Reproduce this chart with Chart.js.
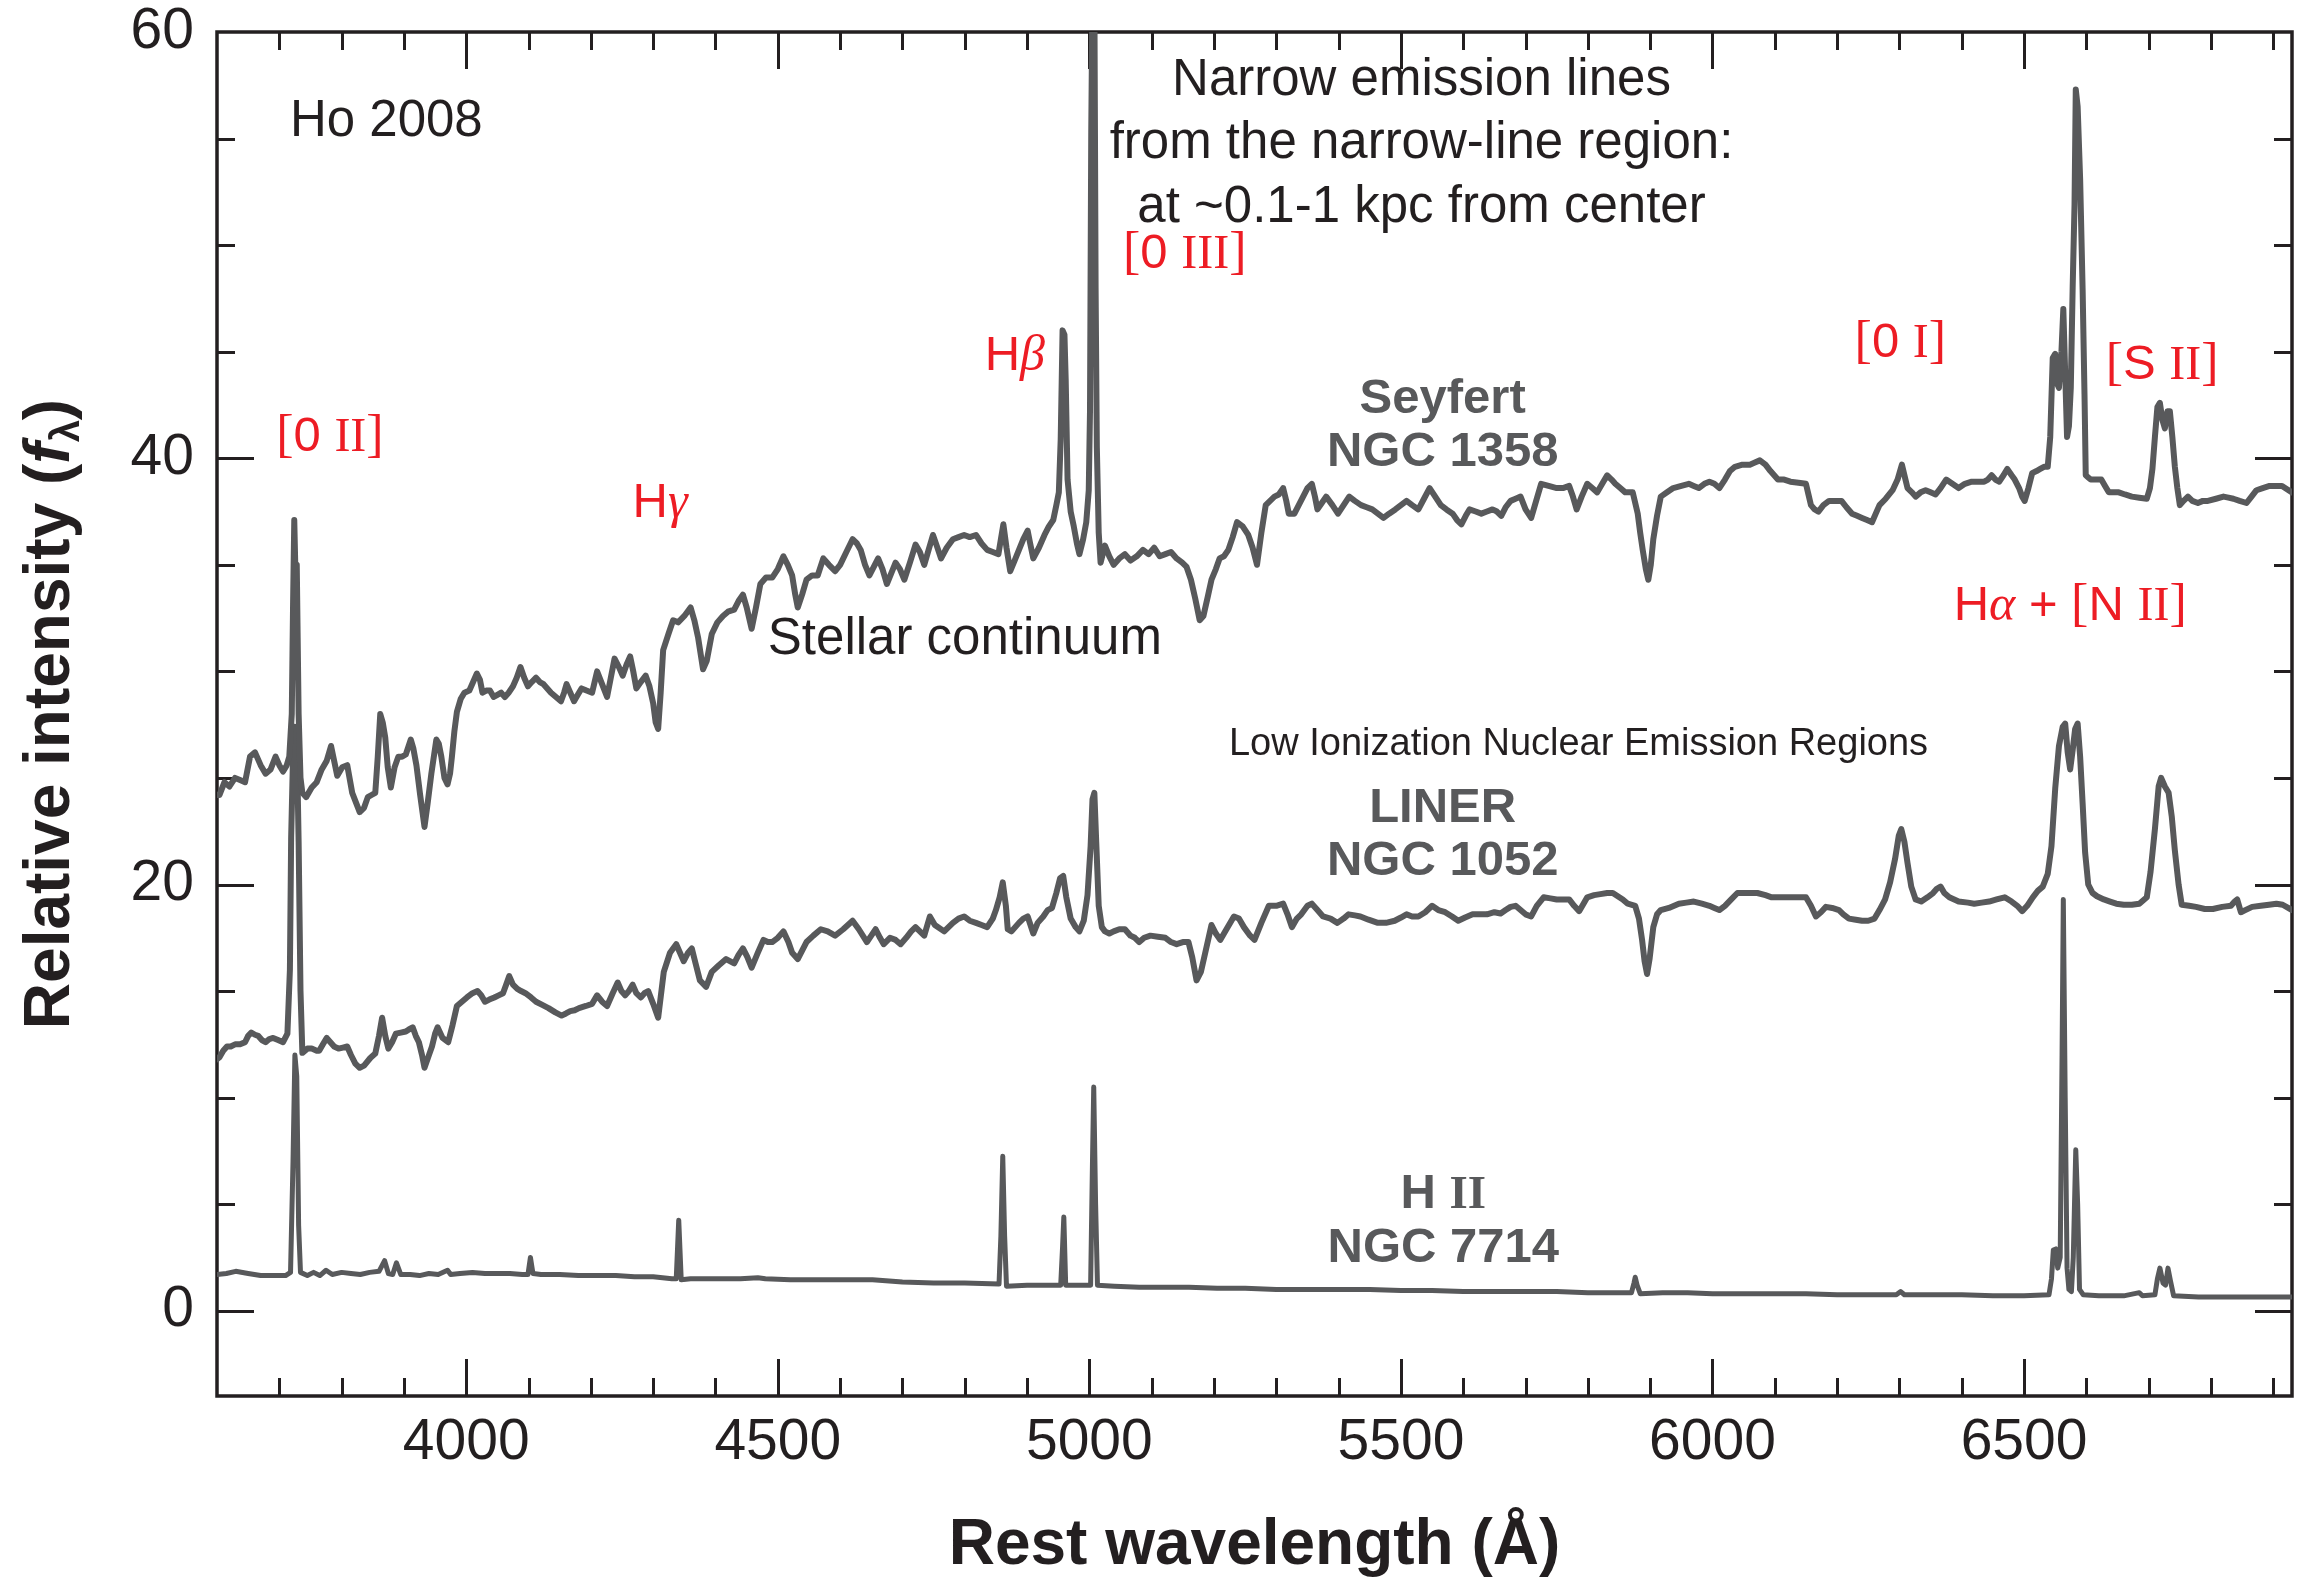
<!DOCTYPE html>
<html>
<head>
<meta charset="utf-8">
<title>Optical spectra of galactic nuclei</title>
<script src="https://cdn.jsdelivr.net/npm/chart.js@4.4.1/dist/chart.umd.min.js"></script>
<style>
  html, body { margin: 0; padding: 0; background: #ffffff; }
  canvas { display: block; }
</style>
</head>
<body>
<canvas id="spectra" width="2298" height="1580"></canvas>
<script>
// ---- Spectra: rest wavelength (Angstrom) and relative intensity f_lambda ----

// Seyfert nucleus, NGC 1358
const seyfertWave = [
  3600,3604,3612,3620,3629,3637,3645,3653,3661,3670,
  3678,3686,3694,3700,3706,3712,3716,3720,3722,3724,
  3726,3728,3731,3734,3737,3743,3752,3760,3768,3776,
  3783,3788,3793,3801,3809,3817,3829,3836,3842,3848,
  3854,3858,3862,3866,3870,3874,3879,3885,3891,3897,
  3903,3911,3915,3920,3926,3933,3938,3944,3952,3956,
  3960,3965,3970,3974,3977,3981,3985,3991,3997,4005,
  4011,4017,4022,4026,4032,4038,4044,4050,4056,4062,
  4068,4075,4081,4087,4093,4099,4105,4112,4118,4124,
  4130,4136,4144,4152,4157,4161,4167,4173,4179,4185,
  4193,4202,4206,4210,4218,4226,4232,4238,4245,4251,
  4257,4263,4268,4273,4280,4288,4294,4300,4304,4308,
  4312,4316,4325,4332,4340,4350,4360,4366,4372,4380,
  4386,4394,4403,4412,4420,4430,4437,4444,4450,4458,
  4465,4472,4481,4491,4500,4509,4516,4523,4528,4532,
  4539,4546,4555,4564,4573,4582,4592,4600,4610,4620,
  4627,4633,4640,4647,4654,4661,4668,4675,4682,4689,
  4696,4703,4712,4721,4728,4735,4742,4749,4755,4762,
  4771,4781,4790,4799,4808,4818,4827,4836,4845,4854,
  4858,4862,4867,4873,4880,4887,4894,4901,4905,4910,
  4919,4928,4935,4942,4947,4951,4954,4957,4960,4962,
  4965,4970,4975,4980,4984,4990,4995,4999,5001,5003,
  5005,5008,5010,5012,5015,5018,5025,5032,5039,5048,
  5057,5066,5076,5086,5095,5104,5113,5122,5131,5140,
  5149,5156,5163,5170,5177,5183,5190,5196,5203,5209,
  5216,5223,5230,5237,5246,5255,5262,5269,5276,5283,
  5290,5297,5304,5311,5316,5320,5329,5336,5343,5350,
  5357,5362,5366,5373,5380,5390,5399,5408,5417,5426,
  5436,5445,5454,5463,5472,5481,5491,5500,5509,5518,
  5528,5537,5546,5555,5564,5573,5583,5590,5597,5604,
  5610,5620,5629,5638,5647,5654,5661,5668,5676,5684,
  5692,5700,5709,5717,5725,5737,5750,5760,5770,5776,
  5782,5790,5799,5807,5815,5823,5831,5838,5844,5852,
  5860,5872,5880,5884,5888,5893,5897,5901,5905,5911,
  5917,5927,5937,5950,5962,5970,5978,5987,5995,6003,
  6011,6020,6028,6036,6048,6060,6068,6076,6085,6093,
  6099,6105,6115,6125,6138,6150,6154,6158,6164,6170,
  6178,6187,6197,6207,6215,6224,6232,6240,6248,6256,
  6262,6268,6278,6289,6297,6304,6308,6313,6320,6326,
  6334,6342,6350,6358,6366,6375,6385,6395,6405,6416,
  6426,6436,6442,6448,6454,6460,6467,6473,6480,6485,
  6492,6497,6501,6507,6513,6520,6526,6532,6538,6542,
  6546,6550,6553,6556,6560,6563,6566,6569,6572,6575,
  6578,6581,6583,6586,6590,6594,6597,6599,6603,6607,
  6615,6624,6630,6636,6644,6652,6662,6673,6685,6697,
  6702,6706,6710,6714,6718,6722,6726,6730,6734,6738,
  6742,6746,6750,6756,6763,6770,6779,6787,6795,6808,
  6820,6828,6836,6846,6857,6865,6873,6883,6894,6904,
  6914,6922,6930
];
const seyfertFlux = [
  24.2,24.2,24.8,24.6,25.0,24.9,24.8,26.0,26.2,25.6,
  25.2,25.4,26.0,25.6,25.3,25.6,26.0,28.0,33.0,37.1,
  34.5,35.0,28.0,25.0,24.3,24.1,24.55,24.8,25.4,25.8,
  26.5,25.8,25.1,25.5,25.6,24.3,23.4,23.6,24.1,24.2,
  24.3,26.0,28.0,27.6,26.9,25.5,24.55,25.5,26.0,26.0,
  26.1,26.8,26.4,25.6,24.2,22.7,23.8,25.2,26.8,26.6,
  26.0,25.0,24.7,25.2,26.0,27.2,28.1,28.7,29.0,29.1,
  29.5,29.9,29.6,29.0,29.1,29.1,28.8,28.9,29.0,28.8,
  29.0,29.3,29.7,30.2,29.7,29.3,29.5,29.7,29.5,29.4,
  29.2,29.0,28.8,28.6,29.0,29.4,29.0,28.6,28.9,29.2,
  29.1,29.0,29.5,30.0,29.4,28.8,29.7,30.6,30.2,29.8,
  30.3,30.7,30.0,29.2,29.5,29.8,29.3,28.5,27.6,27.3,
  29.0,31.0,31.8,32.4,32.3,32.6,33.0,32.4,31.6,30.1,
  30.5,31.75,32.3,32.6,32.8,32.9,33.3,33.6,33.0,32.0,
  33.0,34.1,34.4,34.4,34.8,35.4,35.0,34.5,33.6,33.0,
  33.6,34.3,34.5,34.5,35.3,35.0,34.7,35.0,35.6,36.2,
  36.0,35.7,35.0,34.5,34.9,35.3,34.8,34.1,34.6,35.1,
  34.8,34.3,35.1,35.95,35.6,35.0,35.7,36.4,35.9,35.3,
  35.8,36.2,36.3,36.4,36.3,36.4,36.0,35.7,35.6,35.5,
  36.2,36.9,35.8,34.7,35.2,35.7,36.2,36.6,36.0,35.3,
  35.8,36.4,36.8,37.1,37.8,38.4,40.9,46.0,45.8,43.7,
  39.0,37.5,36.8,36.0,35.5,36.2,37.0,38.5,42.2,55.3,
  62.0,62.0,48.0,40.5,36.5,35.1,35.9,35.4,35.0,35.3,
  35.5,35.2,35.4,35.7,35.5,35.8,35.4,35.5,35.6,35.3,
  35.1,34.9,34.3,33.4,32.4,32.6,33.5,34.3,34.8,35.3,
  35.4,35.7,36.3,37.0,36.8,36.4,35.8,35.0,36.5,37.8,
  38.0,38.2,38.3,38.6,38.0,37.4,37.4,37.8,38.2,38.6,
  38.8,38.2,37.6,37.9,38.2,37.8,37.4,37.8,38.2,38.0,
  37.8,37.7,37.6,37.4,37.2,37.4,37.6,37.8,38.0,37.8,
  37.6,38.1,38.6,38.2,37.8,37.6,37.4,37.1,36.9,37.3,
  37.6,37.5,37.4,37.5,37.6,37.5,37.3,37.7,38.0,38.1,
  38.2,37.6,37.2,38.0,38.8,38.7,38.6,38.6,38.7,38.2,
  37.6,38.2,38.8,38.6,38.4,38.8,39.2,39.0,38.8,38.6,
  38.4,38.4,37.4,36.5,35.7,34.8,34.3,35.0,36.2,37.3,
  38.2,38.4,38.6,38.7,38.8,38.7,38.6,38.8,38.9,38.8,
  38.6,39.0,39.4,39.6,39.7,39.7,39.8,39.9,39.7,39.4,
  39.2,39.0,39.0,38.9,38.85,38.8,38.3,37.8,37.6,37.5,
  37.8,38.0,38.0,38.0,37.7,37.4,37.3,37.2,37.1,37.0,
  37.4,37.8,38.1,38.5,39.0,39.7,39.2,38.6,38.4,38.2,
  38.4,38.5,38.4,38.3,38.6,39.0,38.8,38.6,38.8,38.9,
  38.9,38.9,39.0,39.2,39.0,38.9,39.2,39.5,39.2,39.0,
  38.6,38.2,38.0,38.6,39.3,39.4,39.5,39.6,39.6,41.0,
  44.7,44.9,43.5,43.3,45.0,47.0,44.0,41.0,41.5,43.3,
  48.0,51.9,57.3,56.5,53.1,47.9,43.0,39.2,39.1,39.0,
  39.0,39.0,38.7,38.4,38.4,38.4,38.3,38.2,38.15,38.1,
  38.6,39.5,41.0,42.4,42.6,41.8,41.4,42.2,42.2,41.0,
  39.6,38.6,37.8,38.0,38.2,38.0,37.9,38.0,38.0,38.1,
  38.2,38.15,38.1,38.0,37.9,38.2,38.5,38.6,38.7,38.7,
  38.7,38.55,38.4
];

// LINER nucleus, NGC 1052
const linerWave = [
  3600,3604,3610,3616,3622,3629,3637,3645,3650,3655,
  3661,3666,3672,3678,3684,3690,3698,3706,3713,3717,
  3719,3722,3725,3728,3731,3734,3737,3745,3752,3760,
  3764,3770,3776,3782,3788,3795,3802,3809,3815,3822,
  3829,3836,3846,3854,3860,3865,3870,3875,3881,3887,
  3895,3903,3908,3914,3919,3924,3929,3933,3939,3945,
  3950,3954,3962,3971,3978,3985,3993,4001,4010,4018,
  4024,4030,4037,4045,4052,4059,4064,4069,4075,4082,
  4088,4095,4104,4112,4122,4132,4143,4153,4160,4167,
  4174,4181,4192,4202,4210,4218,4226,4235,4243,4249,
  4255,4261,4267,4273,4280,4286,4292,4300,4308,4317,
  4327,4337,4343,4349,4356,4362,4368,4375,4385,4394,
  4405,4417,4430,4437,4444,4451,4458,4468,4477,4484,
  4491,4500,4509,4517,4523,4532,4539,4546,4557,4569,
  4580,4592,4605,4620,4630,4643,4650,4657,4664,4670,
  4680,4689,4697,4706,4714,4721,4728,4735,4744,4752,
  4767,4781,4790,4799,4808,4818,4827,4836,4845,4850,
  4856,4861,4866,4869,4875,4887,4894,4901,4910,4917,
  4926,4933,4940,4947,4953,4958,4963,4970,4978,4984,
  4991,4997,5002,5005,5008,5011,5015,5020,5025,5032,
  5039,5048,5057,5066,5073,5080,5088,5098,5110,5122,
  5131,5140,5150,5159,5165,5172,5179,5186,5196,5203,
  5210,5220,5232,5240,5248,5258,5265,5276,5288,5300,
  5311,5318,5325,5333,5340,5350,5357,5366,5375,5387,
  5398,5408,5416,5426,5435,5448,5463,5476,5490,5500,
  5509,5518,5528,5539,5550,5560,5571,5582,5592,5603,
  5615,5627,5638,5650,5660,5668,5676,5684,5692,5700,
  5709,5718,5729,5740,5750,5760,5770,5778,5786,5793,
  5799,5810,5820,5831,5840,5848,5856,5864,5876,5882,
  5887,5891,5895,5899,5905,5911,5917,5930,5946,5958,
  5970,5983,5995,6003,6011,6020,6030,6040,6056,6072,
  6085,6095,6117,6135,6150,6158,6166,6174,6182,6192,
  6203,6210,6219,6230,6240,6250,6260,6268,6277,6285,
  6293,6299,6303,6308,6313,6319,6326,6335,6345,6354,
  6360,6366,6372,6380,6395,6410,6420,6432,6444,6456,
  6469,6480,6489,6497,6505,6514,6522,6530,6538,6544,
  6550,6556,6562,6566,6570,6574,6578,6582,6586,6590,
  6594,6598,6603,6610,6617,6628,6638,6648,6660,6673,
  6685,6697,6703,6710,6716,6720,6726,6732,6737,6742,
  6748,6753,6765,6776,6790,6803,6818,6832,6838,6842,
  6848,6855,6866,6880,6893,6905,6915,6930
];
const linerFlux = [
  11.8,11.9,12.2,12.4,12.4,12.5,12.5,12.6,12.9,13.05,
  12.95,12.9,12.7,12.6,12.75,12.8,12.7,12.6,13.0,16.0,
  22.2,26.0,27.4,27.0,22.0,15.0,12.1,12.3,12.3,12.2,
  12.2,12.5,12.8,12.6,12.4,12.3,12.35,12.4,12.0,11.6,
  11.4,11.5,11.86,12.07,12.9,13.75,12.9,12.3,12.6,13.0,
  13.05,13.1,13.2,13.3,12.9,12.6,12.0,11.4,11.9,12.4,
  13.0,13.3,12.8,12.6,13.4,14.3,14.5,14.7,14.9,15.0,
  14.8,14.5,14.6,14.7,14.8,14.9,15.3,15.7,15.3,15.1,
  15.0,14.9,14.7,14.5,14.35,14.2,14.0,13.85,13.95,14.06,
  14.1,14.2,14.3,14.4,14.8,14.5,14.3,14.9,15.4,15.0,
  14.8,15.0,15.3,14.9,14.7,14.9,15.0,14.4,13.75,15.9,
  16.8,17.2,16.8,16.4,16.8,17.0,16.3,15.5,15.2,15.9,
  16.2,16.5,16.3,16.7,17.0,16.6,16.1,16.8,17.4,17.3,
  17.3,17.5,17.8,17.3,16.8,16.5,16.9,17.3,17.6,17.9,
  17.8,17.6,17.9,18.3,17.9,17.3,17.6,17.9,17.5,17.2,
  17.5,17.4,17.2,17.5,17.8,18.0,17.8,17.6,18.5,18.1,
  17.8,18.2,18.4,18.5,18.3,18.2,18.1,18.0,18.4,18.8,
  19.4,20.1,19.0,17.9,17.8,18.2,18.4,18.5,17.7,18.2,
  18.5,18.8,18.9,19.6,20.3,20.4,19.4,18.4,18.0,17.8,
  18.3,19.5,21.8,24.0,24.3,22.0,19.0,18.0,17.8,17.7,
  17.8,17.9,17.9,17.6,17.5,17.3,17.5,17.6,17.55,17.5,
  17.3,17.2,17.3,17.3,16.6,15.5,15.9,16.8,18.1,17.7,
  17.4,17.9,18.5,18.4,18.0,17.6,17.4,18.2,19.0,19.0,
  19.1,18.6,18.0,18.4,18.6,19.0,19.1,18.8,18.5,18.4,
  18.2,18.4,18.6,18.55,18.5,18.35,18.2,18.2,18.3,18.45,
  18.6,18.5,18.5,18.7,19.0,18.8,18.7,18.5,18.3,18.45,
  18.6,18.6,18.6,18.7,18.64,18.8,18.95,19.0,18.8,18.6,
  18.5,19.0,19.4,19.35,19.3,19.3,19.3,19.0,18.75,19.1,
  19.4,19.5,19.55,19.6,19.6,19.45,19.3,19.1,19.0,18.4,
  17.4,16.4,15.8,16.5,18.0,18.6,18.8,18.9,19.1,19.15,
  19.2,19.1,19.0,18.9,18.8,19.0,19.3,19.6,19.6,19.6,
  19.5,19.4,19.4,19.4,19.4,19.0,18.5,18.7,18.95,18.9,
  18.8,18.6,18.4,18.35,18.3,18.3,18.4,18.8,19.3,20.1,
  21.2,22.3,22.6,22.0,21.0,19.9,19.3,19.2,19.4,19.6,
  19.8,19.9,19.6,19.4,19.2,19.15,19.1,19.15,19.2,19.3,
  19.4,19.2,19.0,18.75,19.0,19.4,19.7,19.9,20.5,21.8,
  24.5,26.5,27.4,27.55,26.2,25.4,26.3,27.3,27.55,26.0,
  23.8,21.5,20.0,19.6,19.45,19.3,19.2,19.1,19.05,19.05,
  19.1,19.4,20.6,22.6,24.6,25.0,24.6,24.3,23.2,21.6,
  20.0,19.05,19.0,18.95,18.85,18.85,18.95,19.0,19.2,19.3,
  18.7,18.8,18.95,19.0,19.05,19.1,19.05,18.8
];

// H II nucleus, NGC 7714
const hiiWave = [
  3600,3615,3630,3650,3670,3690,3710,3718,3722,3725,
  3728,3731,3734,3745,3755,3765,3775,3785,3800,3815,
  3830,3845,3860,3869,3875,3882,3888,3895,3910,3925,
  3940,3955,3970,3975,3990,4010,4030,4050,4070,4090,
  4099,4103,4107,4120,4150,4180,4210,4240,4270,4300,
  4330,4337,4341,4345,4360,4400,4440,4468,4480,4520,
  4560,4600,4652,4700,4750,4800,4855,4858,4861,4864,
  4867,4900,4940,4954,4957,4959,4962,4990,5002,5005,
  5007,5010,5013,5040,5080,5120,5160,5205,5250,5300,
  5350,5400,5450,5500,5550,5600,5650,5700,5750,5800,
  5850,5870,5874,5876,5879,5884,5920,5960,6000,6050,
  6100,6150,6200,6250,6295,6302,6308,6350,6400,6450,
  6500,6540,6544,6547,6551,6554,6558,6561,6563,6566,
  6569,6572,6576,6579,6583,6586,6589,6595,6620,6660,
  6685,6690,6710,6714,6718,6723,6727,6731,6735,6740,
  6780,6820,6860,6900,6930
];
const hiiFlux = [
  1.7,1.75,1.85,1.75,1.65,1.65,1.65,1.8,7.0,12.0,
  11.0,4.0,1.8,1.65,1.8,1.65,1.9,1.7,1.8,1.75,
  1.7,1.8,1.85,2.35,1.75,1.7,2.25,1.7,1.7,1.65,
  1.75,1.7,1.9,1.7,1.75,1.8,1.75,1.75,1.75,1.7,
  1.7,2.5,1.75,1.7,1.7,1.65,1.65,1.65,1.6,1.6,
  1.5,1.5,4.25,1.45,1.5,1.5,1.5,1.55,1.5,1.45,
  1.45,1.45,1.45,1.35,1.3,1.3,1.25,3.5,7.25,3.5,
  1.15,1.2,1.2,1.2,3.0,4.4,1.2,1.2,1.2,7.0,
  10.5,5.0,1.2,1.15,1.1,1.1,1.1,1.05,1.05,1.0,
  1.0,1.0,1.0,0.95,0.95,0.9,0.9,0.9,0.9,0.85,
  0.85,0.85,1.3,1.57,1.2,0.8,0.85,0.85,0.8,0.8,
  0.8,0.8,0.75,0.75,0.75,0.9,0.75,0.75,0.75,0.7,
  0.7,0.75,1.5,2.85,2.9,2.0,2.5,12.0,19.3,10.0,
  2.0,1.0,0.9,2.5,7.55,5.0,1.0,0.75,0.7,0.7,
  0.85,0.7,0.75,1.5,2.0,1.3,1.2,2.0,1.4,0.7,
  0.65,0.65,0.65,0.65,0.65
];

// Labelled axis ticks
const xTickLabels = [4000, 4500, 5000, 5500, 6000, 6500];
const yTickLabels = [0, 20, 40, 60];

// ---- Styling ----
const SANS = '"Liberation Sans", Arial, Helvetica, sans-serif';
const SERIF = '"Liberation Serif", "Times New Roman", Times, serif';
const INK = '#231f20';
const TRACE = '#58595b';
const RED = '#ed1c24';

const redBracket = `52px ${SERIF}`;
const redSans = `49px ${SANS}`;
const redRoman = `48px ${SERIF}`;
const redGreek = `italic 50px ${SERIF}`;
const blackNote = `51px ${SANS}`;
const grayBold = `bold 49px ${SANS}`;
const grayRoman = `bold 47px ${SERIF}`;

// Text placed in data coordinates (wavelength, intensity at the baseline)
const notes = [
  { w: 3717, v: 55.1, align: 'left', color: INK, parts: [['Ho 2008', blackNote]] },
  { w: 5533, v: 57.06, align: 'center', color: INK, parts: [['Narrow emission lines', blackNote]] },
  { w: 5533, v: 54.07, align: 'center', color: INK, parts: [['from the narrow-line region:', blackNote]] },
  { w: 5533, v: 51.09, align: 'center', color: INK, parts: [['at ~0.1-1 kpc from center', blackNote]] },
  { w: 4484, v: 30.82, align: 'left', color: INK, parts: [['Stellar continuum', blackNote]] },
  { w: 5785, v: 26.08, align: 'center', color: INK, parts: [['Low Ionization Nuclear Emission Regions', `38px ${SANS}`]] },

  { w: 5567, v: 42.12, align: 'center', color: TRACE, parts: [['Seyfert', grayBold]] },
  { w: 5567, v: 39.62, align: 'center', color: TRACE, parts: [['NGC 1358', grayBold]] },
  { w: 5567, v: 22.93, align: 'center', color: TRACE, parts: [['LINER', grayBold]] },
  { w: 5567, v: 20.43, align: 'center', color: TRACE, parts: [['NGC 1052', grayBold]] },
  { w: 5568, v: 4.82, align: 'center', color: TRACE, parts: [['H ', grayBold], ['II', grayRoman]] },
  { w: 5568, v: 2.30, align: 'center', color: TRACE, parts: [['NGC 7714', grayBold]] },

  { w: 3695, v: 40.34, align: 'left', color: RED, parts: [['[', redBracket], ['0', redSans], [' ', redSans], ['II', redRoman], [']', redBracket]] },
  { w: 4267, v: 37.24, align: 'left', color: RED, parts: [['H', redSans], ['\u03B3', redGreek]] },
  { w: 4832, v: 44.12, align: 'left', color: RED, parts: [['H', redSans], ['\u03B2', redGreek]] },
  { w: 5054, v: 48.93, align: 'left', color: RED, parts: [['[', redBracket], ['0', redSans], [' ', redSans], ['III', redRoman], [']', redBracket]] },
  { w: 6228, v: 44.74, align: 'left', color: RED, parts: [['[', redBracket], ['0', redSans], [' ', redSans], ['I', redRoman], [']', redBracket]] },
  { w: 6631, v: 43.7, align: 'left', color: RED, parts: [['[', redBracket], ['S', redSans], [' ', redSans], ['II', redRoman], [']', redBracket]] },
  { w: 6387, v: 32.39, align: 'left', color: RED, parts: [['H', redSans], ['\u03B1', redGreek], [' + ', redSans], ['[', redBracket], ['N', redSans], [' ', redSans], ['II', redRoman], [']', redBracket]] }
];

// Draws a run of differently styled text pieces on one baseline
function drawRuns(ctx, parts, x, y, align) {
  const sized = parts.map(([text, font, dy]) => {
    ctx.font = font;
    return { text, font, dy: dy || 0, width: ctx.measureText(text).width };
  });
  const total = sized.reduce((s, p) => s + p.width, 0);
  let cx = align === 'center' ? x - total / 2 : x;
  ctx.textAlign = 'left';
  ctx.textBaseline = 'alphabetic';
  for (const p of sized) {
    ctx.font = p.font;
    ctx.fillText(p.text, cx, y + p.dy);
    cx += p.width;
  }
}

// Closed frame with inward-pointing tick marks on all four sides
const framePlugin = {
  id: 'frame',
  beforeDatasetsDraw(chart) {
    const { ctx, chartArea: a, scales: { x, y } } = chart;
    ctx.save();
    ctx.strokeStyle = INK;
    ctx.lineWidth = 3;
    ctx.lineCap = 'butt';
    ctx.beginPath();
    for (let w = Math.ceil(x.min / 100) * 100; w < x.max; w += 100) {
      if (w <= x.min) continue;
      const px = Math.round(x.getPixelForValue(w)) + 0.5;
      const len = w % 500 === 0 ? 37 : 18;
      ctx.moveTo(px, a.bottom); ctx.lineTo(px, a.bottom - len);
      ctx.moveTo(px, a.top); ctx.lineTo(px, a.top + len);
    }
    for (let v = 0; v < y.max; v += 5) {
      const py = Math.round(y.getPixelForValue(v)) + 0.5;
      const len = v % 20 === 0 ? 37 : 18;
      ctx.moveTo(a.left, py); ctx.lineTo(a.left + len, py);
      ctx.moveTo(a.right, py); ctx.lineTo(a.right - len, py);
    }
    ctx.stroke();
    ctx.lineWidth = 3.5;
    ctx.strokeRect(a.left, a.top, a.right - a.left, a.bottom - a.top);
    ctx.restore();
  }
};

// Annotations and the rotated intensity axis title
const notesPlugin = {
  id: 'notes',
  afterDraw(chart) {
    const { ctx, chartArea: a, scales: { x, y } } = chart;
    ctx.save();
    for (const n of notes) {
      ctx.fillStyle = n.color;
      drawRuns(ctx, n.parts, x.getPixelForValue(n.w), y.getPixelForValue(n.v), n.align);
    }
    ctx.translate(69, (a.top + a.bottom) / 2);
    ctx.rotate(-Math.PI / 2);
    ctx.fillStyle = INK;
    drawRuns(ctx, [
      ['Relative intensity (', `bold 64px ${SANS}`],
      ['f', `italic bold 64px ${SANS}`],
      ['\u03BB', `bold 40px ${SANS}`, 10],
      [')', `bold 64px ${SANS}`]
    ], 0, 0, 'center');
    ctx.restore();
  }
};

function spectrum(wave, flux, width) {
  const n = Math.min(wave.length, flux.length);
  const pts = [];
  for (let i = 0; i < n; i++) pts.push({ x: wave[i], y: flux[i] });
  return {
    data: pts,
    borderColor: TRACE,
    borderWidth: width,
    pointRadius: 0,
    tension: 0,
    borderJoinStyle: 'round',
    borderCapStyle: 'round',
    fill: false
  };
}

Chart.defaults.font.family = SANS;

new Chart(document.getElementById('spectra').getContext('2d'), {
  type: 'line',
  data: {
    datasets: [
      spectrum(seyfertWave, seyfertFlux, 6),
      spectrum(linerWave, linerFlux, 6),
      spectrum(hiiWave, hiiFlux, 5)
    ]
  },
  options: {
    responsive: false,
    animation: false,
    devicePixelRatio: 1,
    layout: { padding: { top: 32, right: 6, left: 0, bottom: 0 } },
    plugins: { legend: { display: false }, tooltip: { enabled: false } },
    scales: {
      x: {
        type: 'linear',
        min: 3600,
        max: 6930,
        grid: { display: false, drawTicks: false },
        border: { display: false },
        afterBuildTicks: s => { s.ticks = xTickLabels.map(v => ({ value: v })); },
        afterFit: s => { s.height = 184; s.paddingLeft = 0; s.paddingRight = 0; },
        ticks: {
          font: { family: SANS, size: 57 },
          color: INK,
          padding: 13,
          maxRotation: 0,
          autoSkip: false,
          callback: v => String(v)
        },
        title: {
          display: true,
          text: 'Rest wavelength (\u00C5)',
          color: INK,
          font: { family: SANS, size: 64, weight: 'bold', lineHeight: 1 },
          padding: { top: 0, bottom: 2 }
        }
      },
      y: {
        type: 'linear',
        min: -4,
        max: 60,
        grid: { display: false, drawTicks: false },
        border: { display: false },
        afterBuildTicks: s => { s.ticks = yTickLabels.map(v => ({ value: v })); },
        afterFit: s => { s.width = 217; s.paddingTop = 0; s.paddingBottom = 0; },
        ticks: {
          font: { family: SANS, size: 57 },
          color: INK,
          padding: 23,
          callback: v => String(v)
        }
      }
    }
  },
  plugins: [framePlugin, notesPlugin]
});
</script>
</body>
</html>
